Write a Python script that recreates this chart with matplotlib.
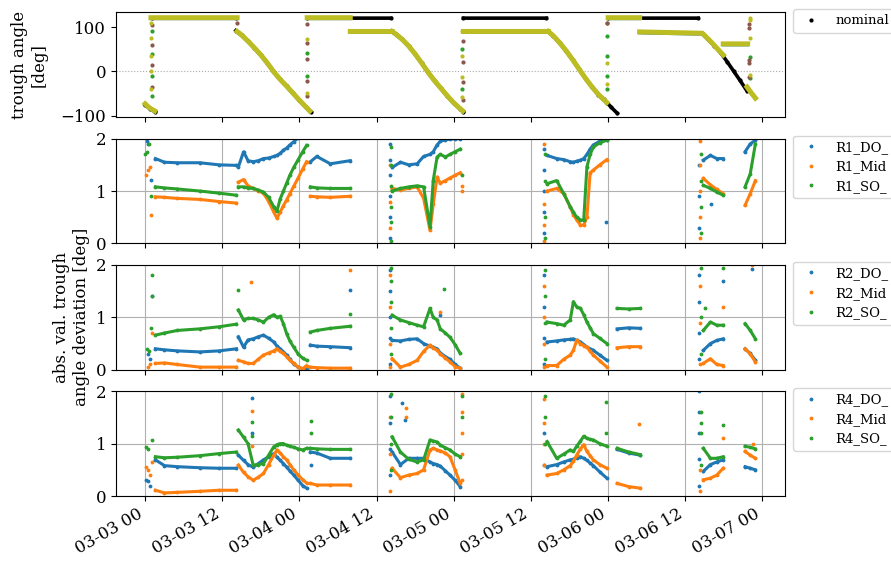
import numpy as np
import matplotlib
matplotlib.use("Agg")
import matplotlib.pyplot as plt
import matplotlib.dates as mdates
from datetime import datetime

plt.rcParams['font.family'] = ['DejaVu Serif']
plt.rcParams['font.size'] = 12

# ---- data (hours after 03-03 00:00); segments are split by gaps ----
# top panel: trough angle [deg]
nom_t = [[0.0, 0.8, 1.6], [1.0, 14.1],
         [14.1, 15, 16, 17, 18, 19, 20, 21, 22, 23, 24, 25, 25.8], [25.2, 38.2],
         [38.4, 39, 40, 41, 42, 43, 44, 45, 46, 47, 48, 49, 49.5], [49.5, 62.4],
         [62.7, 63.5, 64.5, 65.5, 66.5, 67.5, 68.5, 69.5, 70.5, 71.3, 71.8, 72.5, 73.4],
         [72.0, 86.0], [86.6, 87.5, 88.5, 89.5, 90.5, 91.5, 92.5, 93.6]]
nominal = [[-76, -84, -91], [120, 120],
           [92, 82, 68, 53, 37, 19, -1, -18, -33, -49, -65, -80, -91], [120, 120],
           [90, 84, 72, 57, 39, 19, -2, -21, -38, -55, -71, -84, -91], [120, 120],
           [90, 80, 64, 46, 26, 5, -16, -35, -52, -63, -70, -81, -94],
           [120, 120], [86, 73, 58, 42, 22, 1, -20, -44]]

meas_t = [[0.0, 0.5, 1.0, 1.5], [0.9, 14.3],
          [14.3, 15, 16, 17, 18, 19, 20, 21, 22, 23, 24, 25, 25.6], [25.2, 31.9], [31.9, 38.4],
          [38.4, 39, 40, 41, 42, 43, 44, 45, 46, 47, 48, 49, 49.4], [49.5, 62.7],
          [62.7, 63.5, 64.5, 65.5, 66.5, 67.5, 68.5, 69.5, 70.5, 71.3, 71.8], [72.0, 76.9],
          [76.9, 86.6, 86.8, 87.5, 88.5, 89.5, 89.9], [89.9, 93.7], [93.6, 94.2, 94.9]]
measured = [[-73, -80, -85, -89], [121, 121],
            [90, 82, 68, 53, 37, 19, -1, -18, -33, -49, -65, -80, -89], [121, 121], [90, 90],
            [90, 84, 72, 57, 39, 19, -2, -21, -38, -55, -71, -84, -89], [90, 90],
            [90, 80, 64, 46, 26, 5, -16, -35, -52, -63, -70], [121, 121],
            [89, 86, 84, 74, 59, 43, 37], [62, 62], [-35, -47, -60]]

jump_green_t = [1.0, 1.0, 1.0, 1.0, 25.2, 25.2, 49.3, 49.3, 71.8, 71.8, 71.8, 71.8, 71.8, 94.0, 94.0]
jump_green_v = [90, 40, -10, -55, 41, -10, 50, -40, 80, 35, -10, -40, 110, 32, -15]
jump_brown_t = [1.1, 1.1, 1.1, 1.1, 14.3, 25.1, 25.1, 25.1, 25.1, 25.1, 49.4, 49.4, 49.4, 49.4,
                71.9, 93.9, 93.9, 93.9, 93.9, 93.9]
jump_brown_v = [105, 60, 15, -35, 110, 106, 64, 29, -21, -55, 68, 22, -23, -64,
                108, 106, 97, 25, 20, -12]
jump_olive_t = [0.9, 0.9, 0.9, 0.9, 0.9, 25.2, 25.2, 49.3, 49.3, 49.3, 49.3, 71.8, 71.8,
                94.1, 94.1, 94.1, 94.1]
jump_olive_v = [110, 75, 35, 0, -40, 74, -49, 91, 34, -12, -57, 20, -28, 120, 115, 76, -8]

# deviation panels: shared sample hours per segment
dev_t = [[1.6, 3.0, 5.0, 8.5, 11.5, 14.2],
         [14.5, 15.3, 16.0, 16.8, 17.6, 18.4, 19.2, 20.0, 20.5, 21.0, 21.5, 22.0, 22.5, 23.1, 23.8, 24.5, 25.1],
         [25.7, 26.7, 28.8, 31.9],
         [38.4, 39.7, 41.0, 42.3, 43.3, 44.3, 44.8, 45.4, 45.9, 46.7, 47.4, 48.2, 49.0],
         [62.5, 64.0, 65.1, 66.1, 66.6, 67.1, 67.7, 68.2, 68.7, 69.2, 69.7, 70.7, 71.8],
         [73.4, 75.2, 77.0],
         [86.8, 87.9, 88.9, 89.9],
         [93.3, 94.1, 94.9]]
nan = np.nan
r1_do = [[1.62, 1.55, 1.54, 1.54, 1.50, 1.49],
         [1.46, 1.75, 1.58, 1.56, 1.58, 1.62, 1.63, 1.66, 1.68, 1.72, 1.78, 1.82, 1.88, 1.94, 2.02, 2.1, 2.15],
         [1.56, 1.66, 1.52, 1.58],
         [1.45, 1.55, 1.50, 1.52, 1.66, 1.70, 1.75, 1.88, 1.95, 1.98, 1.99, 2.0, 2.0],
         [1.68, 1.62, 1.60, 1.56, 1.55, 1.57, 1.59, 1.62, 1.70, 1.80, 1.88, 1.95, 1.98],
         [nan, nan, nan], [1.59, 1.68, 1.62, 1.62], [1.75, 1.90, 1.97]]
r1_mid = [[0.89, 0.88, 0.86, 0.84, 0.80, 0.77],
          [1.17, 1.22, 1.10, 1.05, 1.00, 0.96, 0.80, 0.60, 0.48, 0.60, 0.72, 0.83, 0.95, 1.09, 1.25, 1.42, 1.56],
          [0.90, 0.89, 0.88, 0.90],
          [1.05, 1.02, 1.05, 1.08, 0.86, 0.25, 0.75, 1.27, 1.15, 1.20, 1.25, 1.30, 1.35],
          [1.00, 1.05, 0.95, 0.70, 0.55, 0.45, 0.35, 0.35, 0.50, 1.35, 1.40, 1.50, 1.60],
          [nan, nan, nan], [1.24, 1.12, 1.03, 0.95], [0.73, 0.95, 1.20]]
r1_so = [[1.08, 1.06, 1.04, 1.00, 0.96, 0.92],
         [1.08, 1.08, 1.06, 1.05, 1.02, 0.98, 0.88, 0.70, 0.62, 0.85, 1.00, 1.15, 1.30, 1.45, 1.60, 1.75, 1.87],
         [1.08, 1.06, 1.05, 1.05],
         [1.00, 1.05, 1.08, 1.10, 1.08, 0.32, 1.20, 1.65, 1.70, 1.65, 1.70, 1.75, 1.80],
         [1.14, 1.20, 0.95, 0.70, 0.60, 0.50, 0.45, 0.44, 1.46, 1.70, 1.84, 1.92, 1.97],
         [nan, nan, nan], [1.11, 1.05, 0.98, 0.92], [1.08, 1.33, 1.90]]
r2_do = [[0.40, 0.38, 0.36, 0.34, 0.36, 0.40],
         [0.63, 0.43, 0.57, 0.59, 0.63, 0.66, 0.60, 0.53, 0.45, 0.40, 0.34, 0.28, 0.20, 0.11, 0.05, 0.02, 0.02],
         [0.47, 0.45, 0.44, 0.42],
         [0.56, 0.55, 0.58, 0.59, 0.50, 0.45, 0.43, 0.40, 0.32, 0.25, 0.20, 0.10, 0.03],
         [0.53, 0.55, 0.57, 0.58, 0.59, 0.56, 0.53, 0.48, 0.43, 0.40, 0.37, 0.28, 0.18],
         [0.78, 0.80, 0.79], [0.37, 0.50, 0.56, 0.59], [0.40, 0.31, 0.18]]
r2_mid = [[0.12, 0.13, 0.10, 0.05, 0.05, 0.05],
          [0.18, 0.15, 0.12, 0.12, 0.20, 0.28, 0.32, 0.36, 0.40, 0.35, 0.31, 0.25, 0.18, 0.12, 0.05, 0.02, 0.08],
          [0.05, 0.04, 0.03, 0.03],
          [0.21, 0.05, 0.10, 0.18, 0.35, 0.47, 0.42, 0.37, 0.30, 0.22, 0.15, 0.06, 0.03],
          [0.08, 0.08, 0.20, 0.28, 0.37, 0.56, 0.50, 0.46, 0.43, 0.35, 0.28, 0.17, 0.05],
          [0.42, 0.44, 0.44], [0.12, 0.21, 0.10, 0.08], [0.40, 0.30, 0.15]]
r2_so = [[0.66, 0.70, 0.75, 0.78, 0.82, 0.87],
         [1.14, 0.95, 0.98, 0.98, 0.95, 0.91, 1.00, 1.05, 1.00, 1.02, 0.88, 0.69, 0.55, 0.43, 0.30, 0.22, 0.18],
         [0.72, 0.75, 0.79, 0.83],
         [1.04, 0.95, 0.90, 0.85, 0.82, 1.17, 1.00, 0.95, 0.78, 0.70, 0.62, 0.48, 0.31],
         [0.91, 0.88, 0.85, 0.95, 1.30, 1.20, 1.17, 1.05, 0.91, 0.80, 0.69, 0.60, 0.50],
         [1.17, 1.16, 1.17], [0.75, 0.91, 0.85, 0.85], [0.88, 0.75, 0.59]]
r4_do = [[0.69, 0.58, 0.56, 0.54, 0.53, 0.53],
         [0.78, 0.68, 0.60, 0.55, 0.62, 0.69, 0.75, 0.81, 0.74, 0.68, 0.62, 0.55, 0.48, 0.40, 0.30, 0.20, 0.15],
         [0.84, 0.82, 0.72, 0.72],
         [0.84, 0.60, 0.72, 0.72, 0.72, 0.65, 0.62, 0.60, 0.57, 0.48, 0.40, 0.30, 0.18],
         [0.56, 0.60, 0.65, 0.69, 0.70, 0.73, 0.75, 0.72, 0.68, 0.63, 0.58, 0.46, 0.34],
         [0.89, 0.82, 0.78], [0.47, 0.60, 0.65, 0.69], [0.56, 0.53, 0.50]]
r4_mid = [[0.11, 0.06, 0.07, 0.09, 0.11, 0.11],
          [0.59, 0.45, 0.37, 0.30, 0.36, 0.43, 0.60, 0.78, 0.88, 0.82, 0.75, 0.69, 0.60, 0.50, 0.40, 0.31, 0.25],
          [0.24, 0.21, 0.21, 0.21],
          [0.53, 0.35, 0.40, 0.43, 0.50, 0.88, 0.91, 0.88, 0.86, 0.82, 0.75, 0.50, 0.24],
          [0.40, 0.43, 0.50, 0.58, 0.66, 0.78, 0.90, 0.98, 0.85, 0.77, 0.69, 0.60, 0.53],
          [0.24, 0.18, 0.15], [0.31, 0.34, 0.40, 0.53], [0.85, 0.78, 0.72]]
r4_so = [[0.75, 0.73, 0.74, 0.77, 0.81, 0.84],
         [1.26, 1.12, 1.00, 0.59, 0.60, 0.62, 0.78, 0.94, 0.98, 1.00, 1.00, 0.97, 0.95, 0.93, 0.90, 0.88, 0.91],
         [0.91, 0.90, 0.89, 0.89],
         [1.13, 0.84, 0.70, 0.65, 0.69, 1.07, 1.05, 1.03, 0.97, 0.92, 0.88, 0.80, 0.75],
         [1.04, 0.72, 0.80, 0.88, 0.85, 0.95, 1.05, 1.14, 1.10, 1.08, 1.07, 1.00, 0.95],
         [0.91, 0.84, 0.79], [0.91, 0.72, 0.72, 0.75], [0.95, 0.93, 0.90]]

# scattered transient points (hour, value)
r1_do_spk = ([0.3, 0.5, 0.9, 38.0, 38.0, 38.0, 38.0, 38.0, 38.0, 62.0, 62.0, 62.0, 62.0, 62.0, 86.2, 86.2, 86.2, 71.6, 88.0],
             [1.95, 1.9, 1.22, 0.1, 0.5, 0.9, 1.3, 1.6, 1.9, 0.2, 0.6, 1.0, 1.4, 1.8, 0.3, 0.9, 1.5, 0.4, 0.75])
r1_mid_spk = ([0.2, 0.5, 0.8, 0.95, 38.1, 38.1, 38.1, 62.1, 62.1, 62.1, 62.1, 86.3, 86.3, 86.3, 86.3, 86.3, 49.2, 49.2],
              [1.3, 1.4, 1.45, 0.55, 0.3, 0.8, 1.5, 0.05, 0.35, 0.75, 1.9, 0.1, 0.5, 1.0, 1.5, 1.95, 1.0, 1.1])
r1_so_spk = ([0.0, 0.3, 0.6, 0.9, 38.2, 38.2, 38.2, 38.2, 38.2, 38.2, 62.2, 62.2, 62.2, 62.2, 86.4, 86.4, 86.4, 86.4, 49.2],
             [1.7, 1.75, 1.9, 0.9, 0.05, 0.4, 0.7, 1.1, 1.5, 1.85, 0.1, 0.5, 1.2, 1.7, 0.2, 0.7, 1.2, 1.7, 1.3])
r2_do_spk = ([0.4, 0.8, 1.0, 38.0, 38.0, 38.0, 38.0, 38.0, 62.0, 62.0, 62.0, 62.0, 86.2, 86.2, 86.2, 86.2, 31.9, 89.9, 94.3, 45.9],
             [0.3, 0.2, 1.4, 0.1, 0.6, 1.0, 1.5, 1.9, 0.1, 0.6, 1.2, 1.8, 0.2, 0.7, 1.3, 1.8, 1.53, 1.7, 1.93, 1.04])
r2_mid_spk = ([0.4, 0.8, 1.0, 16.4, 38.1, 38.1, 38.1, 38.1, 62.1, 62.1, 62.1, 62.1, 86.3, 86.3, 86.3, 31.9, 89.9, 94.3, 45.9],
              [0.05, 0.1, 0.7, 1.67, 0.05, 0.5, 1.2, 1.8, 0.05, 0.5, 1.0, 1.6, 0.1, 0.9, 1.6, 1.9, 1.2, 2.0, 1.1])
r2_so_spk = ([0.3, 0.6, 0.9, 1.0, 1.1, 14.5, 38.2, 38.2, 38.2, 38.2, 38.2, 62.2, 62.2, 62.2, 62.2, 86.4, 86.4, 86.4, 31.9, 89.9, 46.4, 87.0],
             [0.4, 0.35, 0.8, 1.4, 1.8, 1.52, 0.3, 0.8, 1.3, 1.7, 1.95, 0.2, 0.9, 1.4, 1.9, 0.3, 1.0, 1.95, 1.07, 1.95, 1.55, 1.17])
r4_do_spk = ([0.2, 0.5, 0.8, 16.6, 16.6, 38.0, 38.0, 38.0, 38.0, 40.0, 40.4, 62.0, 62.0, 86.2, 86.2, 86.2, 86.2, 86.2, 25.8],
             [0.3, 0.28, 0.2, 1.87, 1.2, 0.4, 0.9, 1.4, 1.9, 1.78, 1.45, 0.6, 1.2, 0.2, 0.7, 1.2, 1.6, 2.0, 0.6])
r4_mid_spk = ([0.2, 0.5, 0.8, 1.0, 16.6, 16.6, 38.1, 38.1, 38.1, 40.5, 40.5, 49.3, 49.3, 49.3, 49.3, 49.3,
               62.1, 62.1, 62.1, 62.1, 76.8, 86.3, 86.3, 89.9, 94.5],
              [0.55, 0.5, 0.4, 0.65, 1.63, 0.95, 0.1, 0.8, 1.5, 1.68, 1.5, 0.3, 0.8, 1.2, 1.6, 1.95,
               0.6, 1.0, 1.4, 1.85, 1.38, 0.1, 0.5, 1.1, 1.0])
r4_so_spk = ([0.1, 0.4, 1.1, 16.6, 16.6, 25.8, 25.8, 38.2, 38.2, 38.2, 38.2, 49.2, 49.2, 62.2, 62.2, 62.2,
              71.7, 71.7, 86.4, 86.4, 86.4, 86.5, 89.9],
             [0.93, 0.9, 1.07, 1.42, 1.15, 1.43, 1.2, 0.5, 1.0, 1.5, 1.95, 1.5, 1.9, 1.0, 1.5, 1.9,
              1.8, 1.2, 0.6, 1.2, 1.6, 1.4, 1.35])

rows = ['R1', 'R2', 'R4']
dev_series = [(r1_do, r1_mid, r1_so), (r2_do, r2_mid, r2_so), (r4_do, r4_mid, r4_so)]
dev_spikes = [(r1_do_spk, r1_mid_spk, r1_so_spk), (r2_do_spk, r2_mid_spk, r2_so_spk),
              (r4_do_spk, r4_mid_spk, r4_so_spk)]
pos_names = ['DO_', 'Mid', 'SO_']  # legend text as far as it is visible


def join(segs):
    out = []
    for s in segs:
        out += list(s) + [np.nan]
    return np.array(out[:-1], dtype=float)


base = mdates.date2num(datetime(2021, 3, 3))


def to_x(h):
    return base + np.asarray(h, dtype=float) / 24.0


fig, axes = plt.subplots(4, 1, figsize=(8.91, 5.62), dpi=100, sharex=True)
fig.subplots_adjust(left=0.13, right=0.881, top=0.978, bottom=0.1174, hspace=0.205)

# top panel
ax = axes[0]
ax.axhline(0, color='#aaaaaa', ls=':', lw=0.8)
xn, yn = to_x(join(nom_t)), join(nominal)
ax.plot(xn, yn, '-', color='black', lw=2.6)
ax.plot(xn, yn, '.', color='black', ms=4, label='nominal')
xm, ym = to_x(join(meas_t)), join(measured)
ax.plot(xm, ym - 2.5, '-', color='tab:blue', lw=2.0)
ax.plot(to_x(jump_green_t), jump_green_v, '.', color='tab:green', ms=4)
ax.plot(to_x(jump_brown_t), jump_brown_v, '.', color='tab:brown', ms=4)
ax.plot(xm, ym, '-', color='tab:olive', lw=3.6)
ax.plot(to_x(jump_olive_t), jump_olive_v, '.', color='tab:olive', ms=4)
ax.set_ylim(-103, 133)
ax.set_yticks([-100, 0, 100])
ax.set_ylabel('trough angle\n[deg]')
ax.yaxis.set_label_coords(-0.1026, 0.5)
ax.legend(loc='upper left', bbox_to_anchor=(1.012, 1.03), borderaxespad=0, fontsize=9.5)

colors = ['tab:blue', 'tab:orange', 'tab:green']
xd = to_x(join(dev_t))
for ax, row, series, spikes in zip(axes[1:], rows, dev_series, dev_spikes):
    for vals, spk, c, name in zip(series, spikes, colors, pos_names):
        y = join(vals)
        ax.plot(xd, y, '-', color=c, lw=2.2)
        ax.plot(xd, y, '.', color=c, ms=3.5, label=row + '_' + name)
        ax.plot(to_x(spk[0]), spk[1], '.', color=c, ms=3.5)
    ax.set_ylim(0, 2)
    ax.set_yticks([0, 1, 2])
    ax.grid(True, color='#b0b0b0', lw=0.8)
    ax.set_axisbelow(True)
    ax.legend(loc='upper left', bbox_to_anchor=(1.012, 1.03), borderaxespad=0, fontsize=9.5)

axes[2].set_ylabel('abs. val. trough\nangle deviation [deg]')

axes[3].set_xlim(to_x(-4.56), to_x(99.5))
axes[3].xaxis.set_major_locator(mdates.HourLocator(byhour=[0, 12]))
axes[3].xaxis.set_major_formatter(mdates.DateFormatter('%m-%d %H'))
plt.setp(axes[3].get_xticklabels(), rotation=30, ha='right')

fig.savefig('out.png', dpi=100)
